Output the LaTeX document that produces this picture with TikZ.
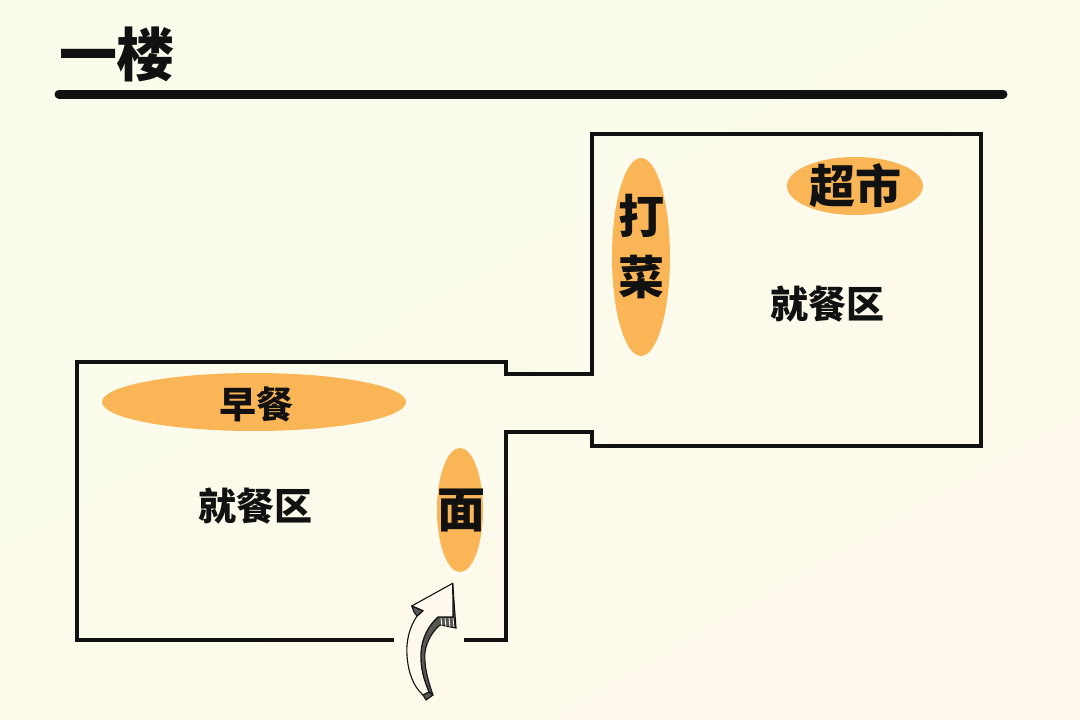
\documentclass[tikz,border=0pt]{standalone}
\usepackage{fontspec}
\newfontfamily\cjk[BoldFont={Noto Sans CJK SC Black}]{Noto Sans CJK SC}
\definecolor{bgA}{HTML}{FAFDEB}
\definecolor{bgB}{HTML}{FEF9EC}
\definecolor{orangeC}{HTML}{F9B556}
\definecolor{inkC}{HTML}{111111}
\tikzset{
  wall/.style={draw=inkC,line width=3.5pt,line join=miter},
  stall/.style={fill=orangeC,draw=none},
  lbl/.style={font=\cjk\bfseries,text=inkC,inner sep=0pt,align=center},
  arrowline/.style={draw=inkC,line width=1.1pt,line join=round,fill=bgB},
  hatch/.style={draw=inkC,line width=1.1pt,line join=round,fill=inkC!70!bgB},
  tick/.style={draw=bgB,line width=.8pt}
}
\begin{document}
\begin{tikzpicture}[x=1pt,y=-1pt]
\useasboundingbox (0,0) rectangle (1080,720);
\shade[left color=bgA,right color=bgB,shading angle=30] (0,0) rectangle (1080,720);
\node[lbl,font=\cjk\bfseries\fontsize{58}{60}\selectfont,anchor=center] (title) at (117,54) {一楼};
\coordinate (ruleL) at (59,94);
\coordinate (ruleR) at (1003,94);
\draw[draw=inkC,line width=9pt,line cap=round] (ruleL) -- (ruleR);
\draw[wall] (394,640) -- (77,640) -- (77,362) -- (506,362) -- (506,374) -- (592,374) -- (592,134) -- (981,134) -- (981,446) -- (592,446) -- (592,432) -- (506,432) -- (506,640) -- (464,640);
\fill[stall] (254,402) ellipse [x radius=152,y radius=29];
\fill[stall] (460,510) ellipse [x radius=23,y radius=62];
\fill[stall] (641,257) ellipse [x radius=29,y radius=99];
\fill[stall] (855,186) ellipse [x radius=68,y radius=29];
\node[lbl,font=\cjk\bfseries\fontsize{37}{40}\selectfont] (zaocan) at (256,405) {早餐};
\node[lbl,font=\cjk\bfseries\fontsize{38}{40}\selectfont] (jiucanA) at (255,506) {就餐区};
\node[lbl,font=\cjk\bfseries\fontsize{38}{40}\selectfont] (jiucanB) at (827,304) {就餐区};
\node[lbl,font=\cjk\bfseries\fontsize{48}{50}\selectfont] (mian) at (461,511) {面};
\node[lbl,font=\cjk\bfseries\fontsize{46}{48}\selectfont] (da) at (641,216) {打};
\node[lbl,font=\cjk\bfseries\fontsize{46}{48}\selectfont] (cai) at (641,277) {菜};
\node[lbl,font=\cjk\bfseries\fontsize{46}{48}\selectfont] (chaoshi) at (855,186) {超市};
% hand-drawn arrow
\path[hatch] (433,695) .. controls (427,678) and (424,665) .. (425,652) .. controls (427,640) and (433,631) .. (440,625) -- (456,628) -- (453,617) -- (438,617) .. controls (428,626) and (422,638) .. (421,652) .. controls (420,668) and (424,680) .. (429,692) -- cycle;
\path[hatch] (452.7,583.3) -- (456,628) -- (453,617) -- cycle;
\path[arrowline] (452.7,583.3) -- (411.7,606) -- (423,610.7) -- (417,616) .. controls (409,628) and (406,642) .. (407,655) .. controls (408,672) and (413,686) .. (423,695) -- (429,692) .. controls (424,680) and (420,668) .. (421,652) .. controls (422,638) and (428,626) .. (438,617) -- (453,617) -- cycle;
\path[hatch] (411.7,606) -- (423,610.7) -- (417,616) -- (414,612) -- cycle;
\path[hatch] (423,695) -- (429,692) -- (433,695) -- (426,700) -- cycle;
\foreach \x in {441,445,449,453}{\draw[tick] (\x,618) -- (\x+1,627);}
\end{tikzpicture}
\end{document}
